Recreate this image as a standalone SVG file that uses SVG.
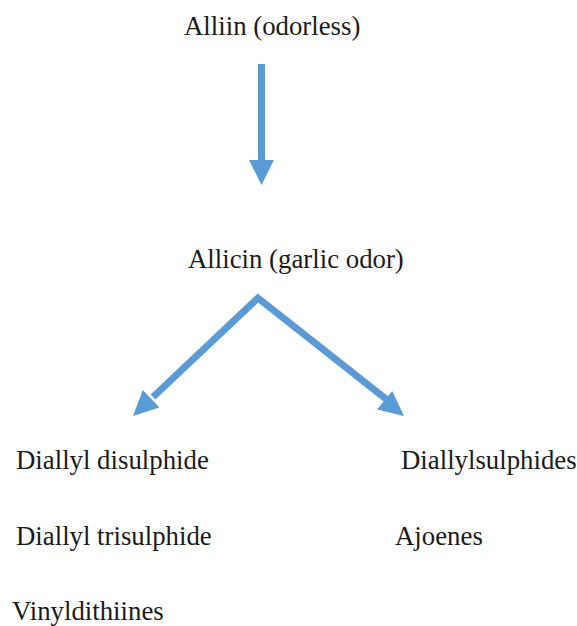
<svg xmlns="http://www.w3.org/2000/svg" width="577" height="626" viewBox="0 0 577 626">
<style>
.t{font-family:"Liberation Serif","Times New Roman",serif;font-size:26.8px;fill:#1a1a1a}
.s{fill:none;stroke:#5B9BD5;stroke-width:7}
.h{fill:#5B9BD5}
</style>
<rect width="577" height="626" fill="#fff"/>
<g id="alliin"><text class="t" x="184" y="35">Alliin (odorless)</text></g>
<g id="allicin"><text class="t" x="188" y="268">Allicin (garlic odor)</text></g>
<g id="diallyl-disulphide"><text class="t" x="16" y="469">Diallyl disulphide</text></g>
<g id="diallyl-trisulphide"><text class="t" x="16" y="545">Diallyl trisulphide</text></g>
<g id="vinyldithiines"><text class="t" x="12" y="620">Vinyldithiines</text></g>
<g id="diallylsulphides"><text class="t" x="401" y="469">Diallylsulphides</text></g>
<g id="ajoenes"><text class="t" x="395" y="545">Ajoenes</text></g>
<g id="connectors">
<path class="s" d="M261.5,64 L261.5,163"/>
<polygon class="h" points="249,160 274,160 261.5,185"/>
<path class="s" d="M153,397 L258,298 L386,399" stroke-linejoin="miter"/>
<polygon class="h" points="133,416 142.8,390.1 159.4,407.5"/>
<polygon class="h" points="404,416 377,409.5 392.2,390.9"/>
</g>
</svg>
